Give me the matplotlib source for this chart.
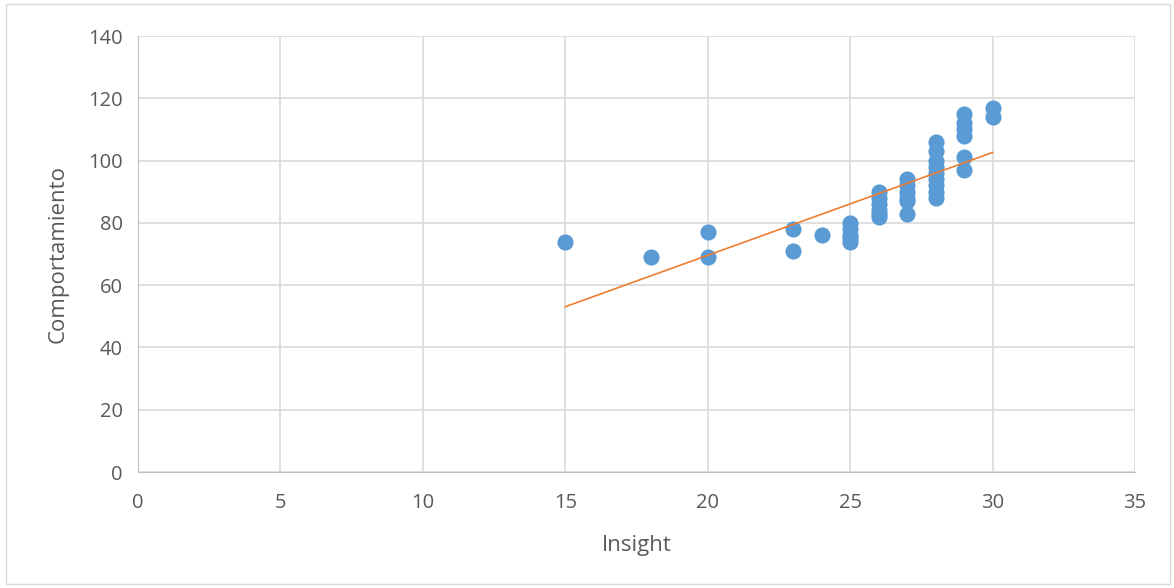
import numpy as np
import matplotlib.pyplot as plt
from matplotlib.patches import Rectangle

insight = [15, 18, 20, 20, 23, 23, 24,
           25, 25, 25, 25, 25,
           26, 26, 26, 26, 26, 26,
           27, 27, 27, 27, 27, 27,
           28, 28, 28, 28, 28, 28, 28, 28, 28,
           29, 29, 29, 29, 29, 29,
           30, 30]
comportamiento = [74, 69, 77, 69, 78, 71, 76,
                  80, 78, 76, 75, 74,
                  90, 88, 86, 84, 83, 82,
                  94, 92, 90, 88, 87, 83,
                  106, 103, 100, 98, 96, 94, 92, 90, 88,
                  115, 112, 110, 108, 101, 97,
                  117, 114]

x = np.array(insight, dtype=float)
y = np.array(comportamiento, dtype=float)
slope, intercept = np.polyfit(x, y, 1)

plt.rcParams['font.family'] = ['Open Sans', 'DejaVu Sans']

fig = plt.figure(figsize=(11.74, 5.88), dpi=100)
ax = fig.add_axes([138 / 1174, 1 - 472 / 588, 997 / 1174, 436 / 588])

fig.patches.append(Rectangle((6 / 1174, 4 / 588), 1164 / 1174, 580 / 588,
                             transform=fig.transFigure, fill=False,
                             edgecolor="#d9d9d9", linewidth=1))

grid_c = "#d9d9d9"
ax.set_xlim(0, 35)
ax.set_ylim(0, 140)
ax.set_xticks(range(0, 36, 5))
ax.set_yticks(range(0, 141, 20))
ax.grid(True, color=grid_c, linewidth=1.2)
ax.set_axisbelow(True)
for s in ["top", "right"]:
    ax.spines[s].set_visible(False)
for s in ["left", "bottom"]:
    ax.spines[s].set_color("#bfbfbf")
ax.tick_params(length=0, colors="#595959", labelsize=14.5)
ax.tick_params(axis="x", pad=15)
ax.tick_params(axis="y", pad=11)

ax.scatter(x, y, s=135, color="#5b9bd5", zorder=3, linewidths=0)
xs = np.array([x.min(), x.max()])
ax.plot(xs, slope * xs + intercept, color="#ed7d31", linewidth=1.2, zorder=4)

ax.set_xlabel("Insight", fontsize=16, color="#595959", labelpad=16)
ax.set_ylabel("Comportamiento", fontsize=16, color="#595959", labelpad=14)

fig.savefig("out.png", dpi=100)
